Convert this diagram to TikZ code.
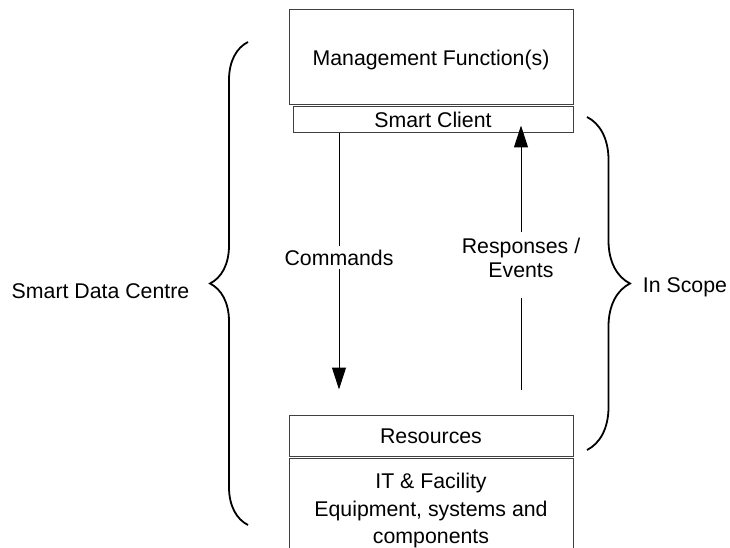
\documentclass[tikz,border=0pt]{standalone}
\usepackage{fontspec}
\setmainfont{Liberation Sans}
\usetikzlibrary{arrows.meta,decorations.pathreplacing}
\tikzset{
  box/.style={draw=black!75, line width=1pt, minimum width=284pt, inner sep=0pt,
    text height=15.3pt, text depth=0pt},
  plain/.style={line width=1pt},
  flow/.style={line width=1pt, -{Triangle[length=22pt,width=14pt]}},
  curly/.style={line width=1.8pt, decorate, decoration={brace, amplitude=#1}},
  curly/.default=38pt
}
\begin{document}
\begin{tikzpicture}[x=1pt,y=-1pt,font=\fontsize{21.3}{24}\selectfont]
\useasboundingbox (0,0) rectangle (730,548);
\clip (0,0) rectangle (730,548);
\node[box, minimum height=95pt] (mgmt) at (431,57.5) {Management Function(s)};
\node[box, minimum width=280pt, minimum height=26pt] (client) at (433,120) {Smart Client};
\node[box, minimum height=41pt] (resources) at (431,435.5) {Resources};
\node[draw=black!75, line width=1pt, minimum width=284pt, inner xsep=0pt, inner ysep=15pt,
  anchor=north, align=center, font=\fontsize{21.3}{27.5}\selectfont] (equip) at (431,458)
  {IT \& Facility\\Equipment, systems and\\components};
\node (cmdlbl) at (339,257.5) {Commands};
\node[align=center, inner sep=5pt] (resplbl) at (521,257.5) {Responses /\\Events};
\node (sdc) at (100.5,291) {Smart Data Centre};
\node (scope) at (685,287) {In Scope};
\draw[plain] (client.south -| cmdlbl) -- (cmdlbl.north);
\draw[flow, shorten >=25pt] (cmdlbl.south) -- (resources.north -| cmdlbl);
\draw[plain, shorten <=25pt, shorten >=15pt] (resources.north -| resplbl) -- (resplbl.south);
\draw[flow, shorten >=-8pt] (resplbl.north) -- (client.south -| resplbl);
\draw[curly=38pt] (248,525) -- (248,42);
\draw[curly=43pt] (587,117) -- (587,450);
\end{tikzpicture}
\end{document}
